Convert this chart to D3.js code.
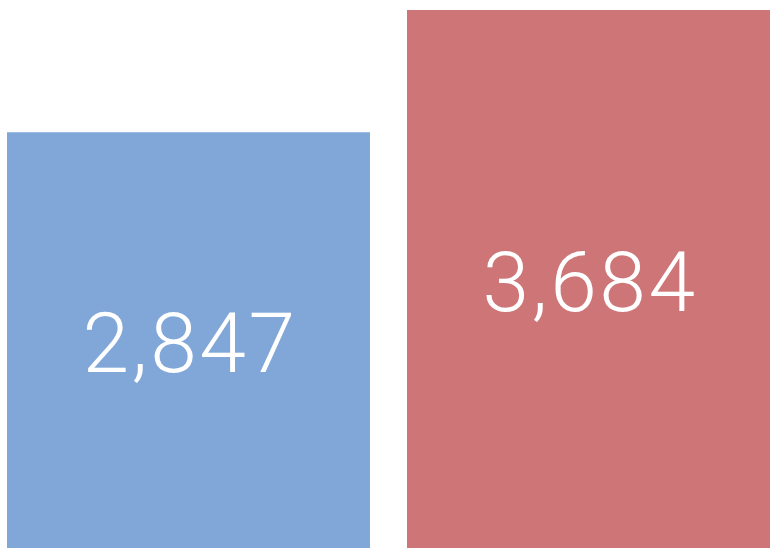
<!DOCTYPE html>
<html>
<head>
<meta charset="utf-8">
<script src="https://cdn.jsdelivr.net/npm/d3@7"></script>
<style>
  html, body { margin: 0; padding: 0; background: #fff; }
  svg { display: block; }
</style>
</head>
<body>
<svg id="chart" width="780" height="554"></svg>
<script>
const categories = ["A", "B"];
const values = [2847, 3684];
const colors = ["#81a7d8", "#cd7577"];

const svg = d3.select("#chart");
const x = d3.scaleBand().domain(categories).range([7, 770]).paddingInner(0.0925).paddingOuter(0);
const y = d3.scaleLinear().domain([0, 3684]).range([548, 10]);
const fmt = d3.format(",");

const data = categories.map((c, i) => ({ c, v: values[i], color: colors[i] }));

svg.selectAll("rect").data(data).join("rect")
  .attr("x", d => x(d.c))
  .attr("y", d => y(d.v))
  .attr("width", x.bandwidth())
  .attr("height", d => y(0) - y(d.v))
  .attr("fill", d => d.color);

svg.selectAll("text.val").data(data).join("text")
  .attr("class", "val")
  .attr("x", d => x(d.c) + x.bandwidth() / 2 + 1.5)
  .attr("y", d => (y(d.v) + y(0)) / 2)
  .attr("dy", "0.38em")
  .attr("text-anchor", "middle")
  .attr("fill", "#fff")
  .style("font-family", "Roboto, 'Open Sans', sans-serif")
  .style("font-weight", 300)
  .style("font-size", "84px")
  .style("letter-spacing", "2.5px")
  .text(d => fmt(d.v));
</script>
</body>
</html>
